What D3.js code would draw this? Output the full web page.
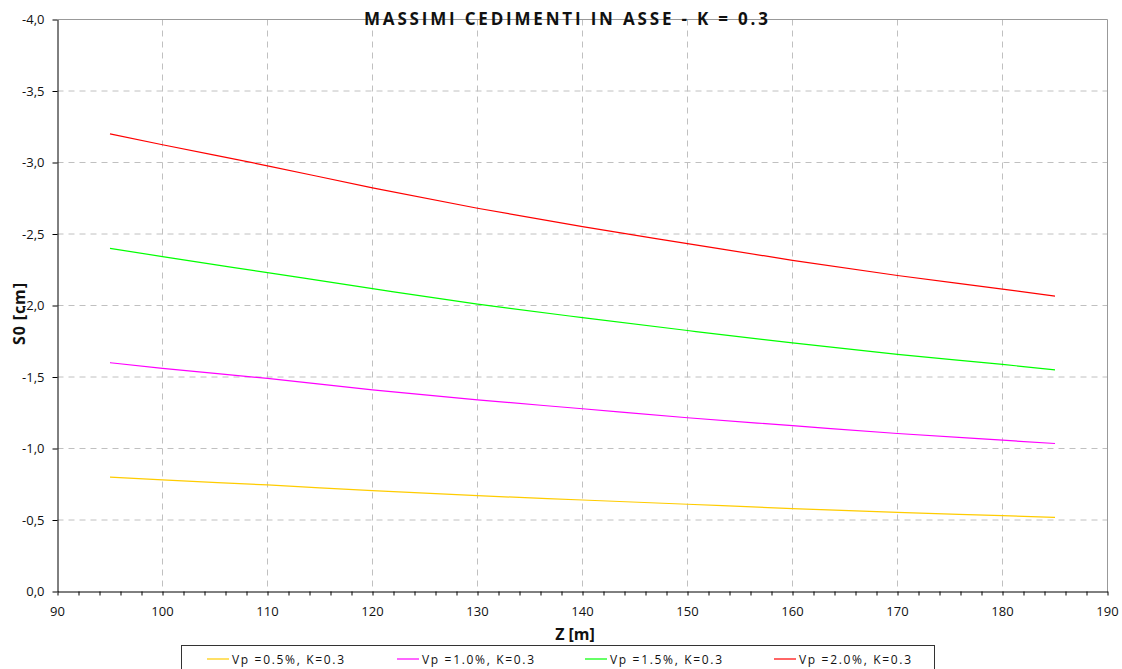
<html>
  <head>
    <title> Massimi cedimenti </title>
    <style>
      body { margin: 0; background: #fff; }
      text { font-family: "Open Sans", "DejaVu Sans", sans-serif; fill: #111; }
    </style>
  </head>
  <body>
  <script src="https://d3js.org/d3.v7.min.js"></script>
  <script>
    var w = 1122;
    var h = 669;

    // data
    var zValues = [95, 100, 110, 120, 130, 140, 150, 160, 170, 180, 185];
    var vp05 = [-0.80, -0.78, -0.745, -0.705, -0.67, -0.64, -0.61, -0.58, -0.553, -0.53, -0.518];
    var vp10 = [-1.60, -1.56, -1.49, -1.41, -1.34, -1.278, -1.215, -1.16, -1.105, -1.058, -1.035];
    var vp15 = [-2.40, -2.342, -2.23, -2.118, -2.01, -1.915, -1.825, -1.738, -1.658, -1.588, -1.55];
    var vp20 = [-3.20, -3.124, -2.977, -2.823, -2.68, -2.551, -2.433, -2.316, -2.21, -2.115, -2.066];
    var seriesNames = ['Vp =0.5%, K=0.3', 'Vp =1.0%, K=0.3', 'Vp =1.5%, K=0.3', 'Vp =2.0%, K=0.3'];
    var seriesColors = ['#ffcc00', '#ff00ff', '#00ff00', '#ff0000'];
    var xTicks = [90, 100, 110, 120, 130, 140, 150, 160, 170, 180, 190];
    var yTicks = [-4, -3.5, -3, -2.5, -2, -1.5, -1, -0.5, 0];

    var series = [vp05, vp10, vp15, vp20];

    var svg = d3.select('body')
                .append('svg')
                .attr('width', w)
                .attr('height', h);

    var pLeft = 57.5, pRight = 1107.5, pTop = 19.5, pBottom = 591.5;

    var x = d3.scaleLinear().domain([90, 190]).range([pLeft, pRight]);
    var y = d3.scaleLinear().domain([-4, 0]).range([pTop, pBottom]);

    // grid
    svg.append('g')
       .selectAll('line')
       .data(xTicks.slice(1, -1))
       .enter()
       .append('line')
       .attr('x1', d => x(d)).attr('x2', d => x(d))
       .attr('y1', pTop).attr('y2', pBottom)
       .attr('stroke', '#c0c0c0')
       .attr('stroke-dasharray', '6,5');

    svg.append('g')
       .selectAll('line')
       .data(yTicks.slice(1, -1))
       .enter()
       .append('line')
       .attr('x1', pLeft).attr('x2', pRight)
       .attr('y1', d => y(d)).attr('y2', d => y(d))
       .attr('stroke', '#c0c0c0')
       .attr('stroke-dasharray', '6,5');

    // frame
    svg.append('line').attr('x1', pLeft).attr('x2', pRight).attr('y1', pTop).attr('y2', pTop).attr('stroke', '#999');
    svg.append('line').attr('x1', pRight).attr('x2', pRight).attr('y1', pTop).attr('y2', pBottom).attr('stroke', '#999');

    // axes
    var minor = d3.range(90, 191, 2);
    var xAxis = d3.axisBottom(x).tickValues(minor).tickSize(4).tickSizeOuter(0).tickFormat('');
    svg.append('g').attr('transform', 'translate(0,' + pBottom + ')').call(xAxis)
       .call(g => g.select('.domain').attr('stroke', '#000'))
       .call(g => g.selectAll('.tick line').attr('stroke', '#000'));

    svg.append('g')
       .selectAll('text')
       .data(xTicks)
       .enter()
       .append('text')
       .attr('x', d => x(d))
       .attr('y', 616)
       .attr('text-anchor', 'middle')
       .style('font-size', '13px')
       .text(d => d);

    var yAxis = d3.axisLeft(y).tickValues(yTicks).tickSize(5).tickSizeOuter(0)
                  .tickFormat(d => d3.format('.1f')(d).replace('.', ',').replace('−', '-'));
    svg.append('g').attr('transform', 'translate(' + pLeft + ',0)').call(yAxis)
       .call(g => g.select('.domain').attr('stroke', '#000'))
       .call(g => g.selectAll('.tick line').attr('stroke', '#000'))
       .call(g => g.selectAll('.tick text')
                   .attr('x', -13)
                   .style('font-family', '"Open Sans", sans-serif')
                   .style('font-size', '13px')
                   .attr('fill', '#111'));

    // lines
    var line = d3.line().x((d, i) => x(zValues[i])).y(d => y(d)).curve(d3.curveMonotoneX);
    svg.append('g')
       .selectAll('path')
       .data(series)
       .enter()
       .append('path')
       .attr('d', d => line(d))
       .attr('fill', 'none')
       .attr('stroke', (d, i) => seriesColors[i])
       .attr('stroke-width', 1.2);

    // titles
    svg.append('text')
       .attr('x', 566).attr('y', 25)
       .attr('text-anchor', 'middle')
       .attr('textLength', 404)
       .style('font-size', '17px')
       .style('font-weight', 'bold')
       .text('MASSIMI CEDIMENTI IN ASSE - K = 0.3');

    svg.append('text')
       .attr('x', 575).attr('y', 640)
       .attr('text-anchor', 'middle')
       .style('font-size', '16px')
       .style('font-weight', 'bold')
       .text('Z [m]');

    svg.append('text')
       .attr('transform', 'translate(25,314) rotate(-90)')
       .attr('text-anchor', 'middle')
       .attr('textLength', 62)
       .style('font-size', '16px')
       .style('font-weight', 'bold')
       .text('S0 [cm]');

    // legend
    svg.append('rect')
       .attr('x', 181.5).attr('y', 645.5)
       .attr('width', 753).attr('height', 40)
       .attr('fill', '#fff')
       .attr('stroke', '#333');

    var legX = [207, 397, 585, 774];
    var leg = svg.append('g')
                 .selectAll('g')
                 .data(seriesNames)
                 .enter()
                 .append('g')
                 .attr('transform', (d, i) => 'translate(' + legX[i] + ',659)');
    leg.append('line')
       .attr('x1', 0).attr('x2', 22)
       .attr('stroke', (d, i) => seriesColors[i])
       .attr('stroke-width', 1.2);
    leg.append('text')
       .attr('x', 25).attr('y', 4.5)
       .attr('textLength', 112)
       .style('font-size', '12px')
       .text(d => d);
  </script>
  </body>
</html>
